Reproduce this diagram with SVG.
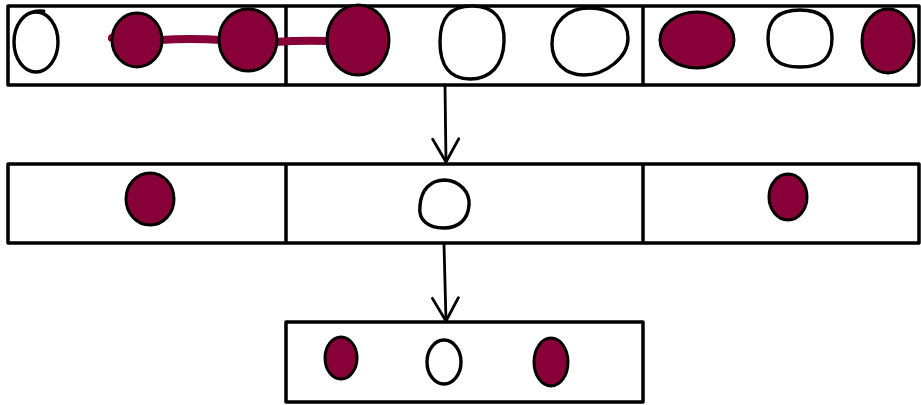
<svg xmlns="http://www.w3.org/2000/svg" width="921" height="405" viewBox="0 0 921 405">
<defs>
<style>
.box{fill:#fff;stroke:#000;stroke-width:3.5;stroke-linejoin:round}
.div{stroke:#000;stroke-width:3.5}
.o{fill:#fff;stroke:#000;stroke-width:3.4}
.f{fill:#870038;stroke:#000;stroke-width:3}
.link{stroke:#870038;stroke-width:8;stroke-linecap:round;fill:none}
.arr{stroke:#000;stroke-width:2.8;fill:none;stroke-linecap:round;stroke-linejoin:round}
</style>
<marker id="ah" viewBox="-2 -2 28 30" refX="23" refY="13" markerWidth="28" markerHeight="30" markerUnits="userSpaceOnUse" orient="auto">
<path d="M0 0 L23 13 L0 26" fill="none" stroke="#000" stroke-width="2.8" stroke-linecap="round" stroke-linejoin="round"/>
</marker>
</defs>
<rect width="921" height="405" fill="#fff"/>
<g id="row1">
<rect class="box" x="8" y="6" width="911" height="79"/>
<line class="div" x1="286" y1="6" x2="286" y2="85"/>
<line class="div" x1="643" y1="6" x2="643" y2="85"/>
</g>
<g id="connectors">
<path class="link" d="M112 38 L120 40 M160 40 Q190 38 222 40 M275 42 Q300 40 330 41"/>
<path class="arr" d="M445 86 L446 162" marker-end="url(#ah)"/>
<path class="arr" d="M444 244 L446 321" marker-end="url(#ah)"/>
</g>
<g id="n1"><ellipse class="o" cx="36" cy="42" rx="22" ry="30"/><path class="arr" d="M30 13 Q36 10 44 11"/></g>
<g id="n2"><ellipse class="f" cx="137" cy="40" rx="25" ry="27"/></g>
<g id="n3"><ellipse class="f" cx="248" cy="40" rx="29" ry="31"/></g>
<g id="n4"><ellipse class="f" cx="358" cy="40" rx="31" ry="35"/></g>
<g id="n5"><path class="o" d="M472 6 C495 6 505 20 504 42 C503 66 490 79 470 79 C450 79 440 66 440 42 C440 18 450 6 472 6 Z"/></g>
<g id="n6"><path class="o" d="M589 8 C612 8 628 20 628 38 C628 58 605 75 584 75 C565 75 552 62 552 44 C552 22 568 8 589 8 Z"/></g>
<g id="n7"><ellipse class="f" cx="697" cy="40" rx="37" ry="28"/></g>
<g id="n8"><path class="o" d="M800 10 C822 10 832 20 832 38 C832 58 822 67 800 67 C778 67 768 58 768 38 C768 20 778 10 800 10 Z"/></g>
<g id="n9"><ellipse class="f" cx="888" cy="41" rx="26" ry="32"/></g>
<g id="row2">
<rect class="box" x="8" y="164" width="911" height="79"/>
<line class="div" x1="286" y1="164" x2="286" y2="243"/>
<line class="div" x1="643" y1="164" x2="643" y2="243"/>
</g>
<g id="m1"><ellipse class="f" cx="150" cy="199" rx="24" ry="26"/></g>
<g id="m2"><path class="o" d="M445 180 C460 181 470 192 469 205 C468 220 458 228 444 228 C428 228 418 220 420 206 C421 190 430 180 445 180 Z"/></g>
<g id="m3"><ellipse class="f" cx="788" cy="197" rx="19" ry="23"/></g>
<g id="row3">
<rect class="box" x="286" y="322" width="357" height="80"/>
</g>
<g id="b1"><ellipse class="f" cx="341" cy="358" rx="16" ry="21"/></g>
<g id="b2"><ellipse class="o" cx="444" cy="362" rx="17" ry="22"/></g>
<g id="b3"><ellipse class="f" cx="551" cy="362" rx="17" ry="24"/></g>
</svg>
